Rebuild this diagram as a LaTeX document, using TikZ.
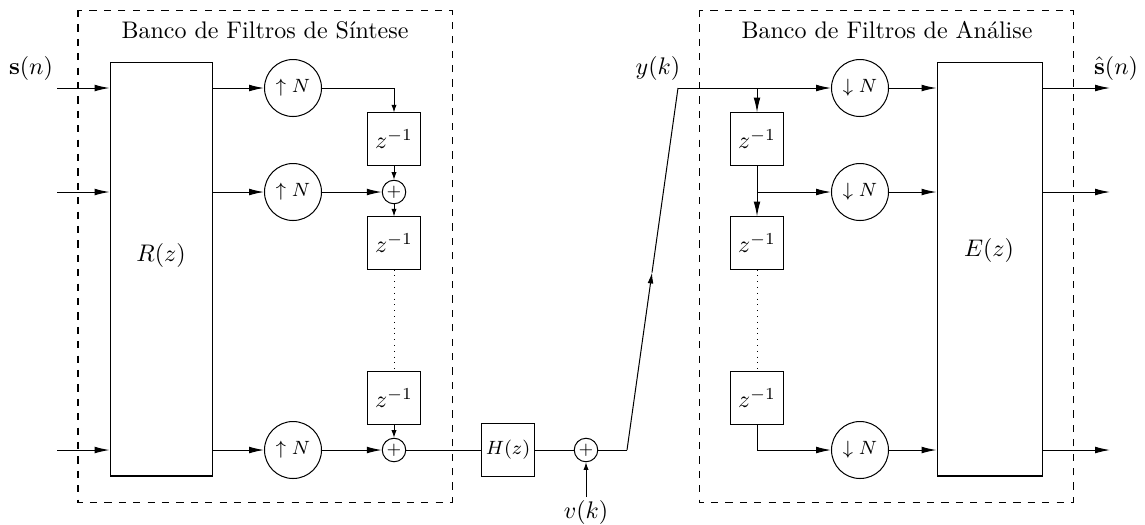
\documentclass[tikz,border=0pt]{standalone}
\usetikzlibrary{arrows.meta,calc}
\begin{document}
\begin{tikzpicture}[x=0.4167pt,y=-0.4167pt,line width=0.42pt,
  arr/.style={-{Latex[length=6.2pt,width=2.8pt]}},
  arrS/.style={-{Latex[length=3.2pt,width=2.2pt]}},
  arrM/.style={-{Latex[length=4.5pt,width=2.4pt]}},
  zbox/.style={draw,minimum width=21.7pt,minimum height=21.7pt,inner sep=0pt},
  rate/.style={draw,circle,minimum size=23.75pt,inner sep=0pt,font=\footnotesize},
  plus/.style={draw,circle,minimum size=9.8pt,inner sep=0pt,font=\scriptsize},
  bank/.style={draw,dashed},
  lbl/.style={inner sep=1pt}]
\useasboundingbox (0,0) rectangle (1145,524);
% dashed banks
\draw[bank] (78,10) rectangle (452,502);
\draw[bank] (699,10) rectangle (1073,502);
\node (t1) at (265,30) {Banco de Filtros de Síntese};
\node (t2) at (887,30) {Banco de Filtros de Análise};
% synthesis
\coordinate (i1) at (57,88);
\coordinate (i2) at (57,192);
\coordinate (i3) at (57,450);
\node[lbl] (sn) at (31,68) {$\mathbf{s}(n)$};
\node[draw,minimum width=42.9pt,minimum height=172.5pt,inner sep=0pt] (R) at (161.5,269) {};
\node (Rl) at (161,255) {$R(z)$};
\node[rate] (u1) at (293,88) {$\uparrow N$};
\node[rate] (u2) at (293,192) {$\uparrow N$};
\node[rate] (u3) at (293,450) {$\uparrow N$};
\node[zbox] (sz1) at (394,139) {$z^{-1}$};
\node[zbox] (sz2) at (394,243) {$z^{-1}$};
\node[zbox] (sz3) at (394,398) {$z^{-1}$};
\node[plus] (sp2) at (394,192) {$+$};
\node[plus] (sp3) at (394,450) {$+$};
\foreach \k in {1,2,3}{
  \draw[arr] (i\k) -- (i\k -| R.west);
  \draw[arr] (R.east |- u\k) -- (u\k.west);
}
\draw[arrS] (u1.east) -| (sz1.north);
\draw[arrS] (sz1.south) -- (sp2.north);
\draw[arr] (u2.east) -- (sp2.west);
\draw[arrS] (sp2.south) -- (sz2.north);
\draw[dotted] (sz2.south) -- (sz3.north);
\draw[arrS] (sz3.south) -- (sp3.north);
\draw[arr] (u3.east) -- (sp3.west);
% channel
\node[zbox,font=\footnotesize] (H) at (508,450) {$H(z)$};
\node[plus] (p) at (586,450) {$+$};
\node[lbl] (vk) at (586,512) {$v(k)$};
\draw (sp3.east) -- (H.west);
\draw (H.east) -- (p.west);
\draw[arrS] (vk.north) -- (p.south);
\coordinate (c1) at (627,450);
\coordinate (c2) at (678,88);
\coordinate (cm) at ($(c1)!0.49!(c2)$);
\draw (p.east) -- (c1);
\draw[arrM] (c1) -- (cm);
\draw (cm) -- (c2);
\node[lbl] (yk) at (658,68) {$y(k)$};
% analysis
\coordinate (b1) at (757,88);
\node[zbox] (az1) at (757,139) {$z^{-1}$};
\node[zbox] (az2) at (757,243) {$z^{-1}$};
\node[zbox] (az3) at (757,398) {$z^{-1}$};
\node[rate] (d1) at (860,88) {$\downarrow N$};
\node[rate] (d2) at (860,192) {$\downarrow N$};
\node[rate] (d3) at (860,450) {$\downarrow N$};
\node[draw,minimum width=43.75pt,minimum height=172.5pt,inner sep=0pt] (E) at (989.5,269) {};
\node (El) at (989,250) {$E(z)$};
\coordinate (o1) at (1110,88);
\coordinate (o2) at (1110,192);
\coordinate (o3) at (1110,450);
\node[lbl] (shn) at (1116,68) {$\hat{\mathbf{s}}(n)$};
\draw[arr] (c2) -- (d1.west);
\draw[arr] (b1) -- (az1.north);
\draw[arr] (az1.south) -- (az2.north);
\draw[arr] (az1.south |- d2) -- (d2.west);
\draw[dotted] (az2.south) -- (az3.north);
\draw[arr] (az3.south) |- (d3.west);
\foreach \k in {1,2,3}{
  \draw[arr] (d\k.east) -- (d\k -| E.west);
  \draw[arr] (E.east |- o\k) -- (o\k);
}
\end{tikzpicture}
\end{document}
